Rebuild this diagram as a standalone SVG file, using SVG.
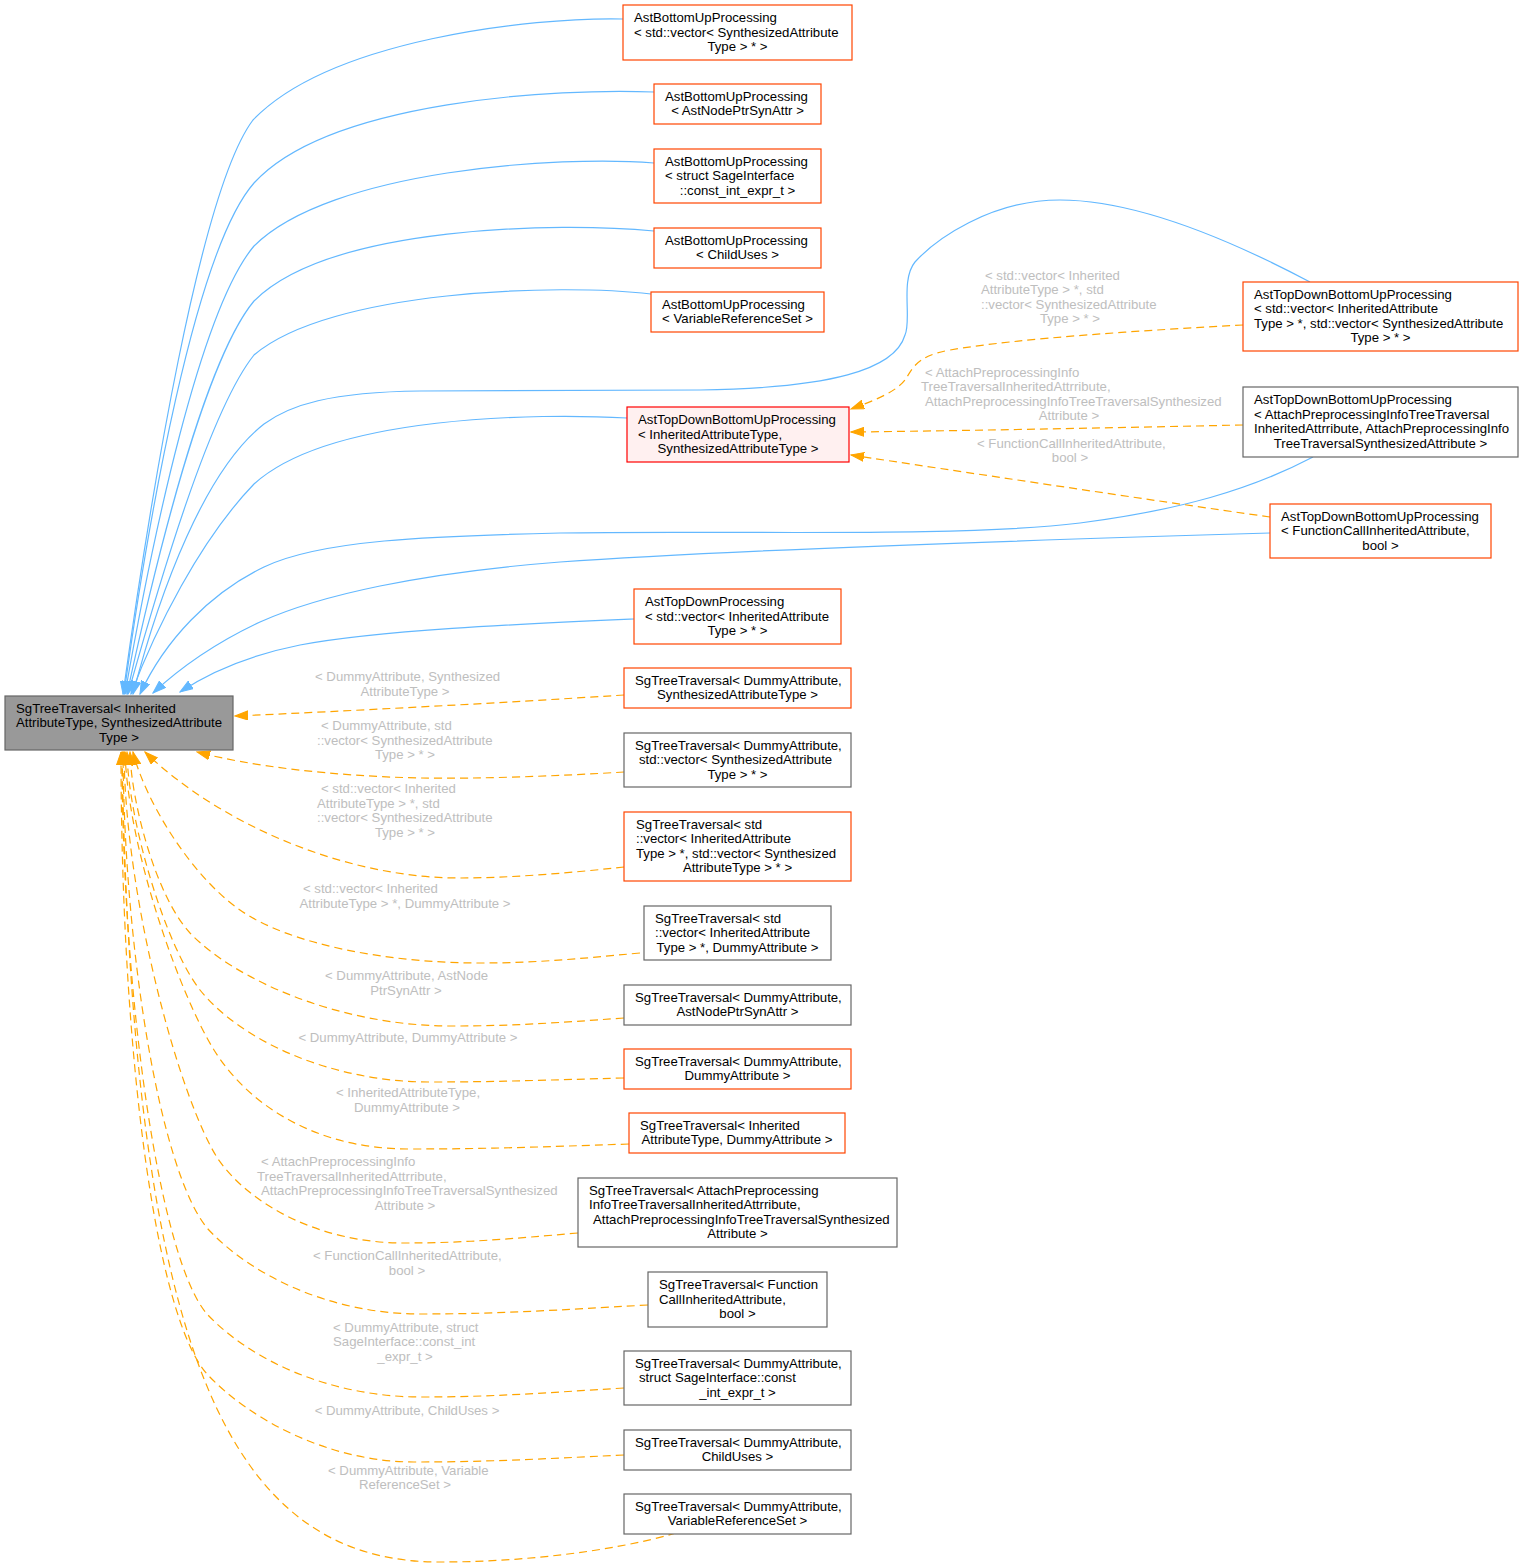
<svg xmlns="http://www.w3.org/2000/svg" width="1524" height="1568" viewBox="0 0 1524 1568">
<style>
rect{fill:#ffffff;stroke-width:1.2}
.or{stroke:#ff4500}
.gr{stroke:#666666}
.rd{stroke:#ff0000;fill:#fff0f0}
.rt{fill:#999999;stroke:#666666}
text{font-family:"Liberation Sans",Arial,Helvetica,sans-serif;font-size:13.2px;fill:#000000}
text.c{text-anchor:middle}
.lb text{fill:#bebebe}
.eb{fill:none;stroke:#63b8ff;stroke-width:1.2;marker-end:url(#ab)}
.eo{fill:none;stroke:#ffa500;stroke-width:1.2;stroke-dasharray:8,5;marker-end:url(#ao)}
</style>
<defs>
<marker id="ab" markerWidth="14" markerHeight="10" refX="13" refY="5" orient="auto" markerUnits="userSpaceOnUse"><path d="M0,0.5 L13,5 L0,9.5 z" fill="#63b8ff" stroke="#63b8ff"/></marker>
<marker id="ao" markerWidth="14" markerHeight="10" refX="13" refY="5" orient="auto" markerUnits="userSpaceOnUse"><path d="M0,0.5 L13,5 L0,9.5 z" fill="#ffa500" stroke="#ffa500"/></marker>
</defs>
<rect x="0" y="0" width="1524" height="1568" style="fill:#ffffff;stroke:none"/>
<g id="edges">
<path class="eb" d="M623,19 C530,17 330,40 253,120 C200,190 150,500 123,694"/>
<path class="eb" d="M654,92 C560,88 330,100 254,183 C195,250 148,520 124,694"/>
<path class="eb" d="M654,163 C560,155 330,170 254,246 C200,310 152,540 125,694"/>
<path class="eb" d="M654,231 C560,222 330,225 254,301 C205,360 156,560 127,694"/>
<path class="eb" d="M651,294 C560,283 330,290 254,355 C210,410 160,580 128,694"/>
<path class="eb" d="M627,418 C540,413 330,415 254,484 C200,540 155,630 131,694"/>
<path class="eb" d="M1310,282 C1240,245 1140,200 1060,200 C990,200 935,240 915,262 C900,280 912,320 905,335 C895,370 830,388 700,390 L420,391 C330,392 290,405 264,424 C205,470 160,590 133,694"/>
<path class="eb" d="M1313,457 C1250,490 1180,510 1080,523 C960,538 720,530 560,533 C430,536 320,540 264,567 C210,593 165,640 140,694"/>
<path class="eb" d="M1270,533 C1000,541 700,552 560,562 C420,573 320,595 260,622 C215,643 180,668 153,693"/>
<path class="eb" d="M634,619 C520,624 380,630 300,645 C250,655 210,672 180,692"/>
<path class="eo" d="M1243,325 C1150,330 1020,338 950,350 C915,356 912,370 905,380 C895,393 870,402 851,409"/>
<path class="eo" d="M1243,425 C1100,428 950,431 851,432"/>
<path class="eo" d="M1270,517 C1150,500 950,470 851,455"/>
<path class="eo" d="M624,695 C500,703 350,711 235,716"/>
<path class="eo" d="M624,772 C560,776 480,779 420,778 C330,776 250,766 197,752"/>
<path class="eo" d="M624,867 C570,873 510,878 460,878 C340,878 215,820 145,752"/>
<path class="eo" d="M640,953 C576,959 536,963 480,963 C390,963 290,945 240,910 C190,875 145,800 133,752"/>
<path class="eo" d="M624,1018 C555,1023 512,1026 451,1026 C340,1026 235,980 190,933 C155,895 131,800 130,752"/>
<path class="eo" d="M624,1078 C546,1080 498,1082 430,1082 C330,1082 240,1040 200,990 C165,945 128,820 127,752"/>
<path class="eo" d="M629,1144 C541,1147 486,1149 409,1149 C310,1149 245,1100 214,1050 C180,995 128,850 125,752"/>
<path class="eo" d="M578,1233 C508,1239 465,1243 404,1243 C320,1243 250,1205 218,1159 C180,1100 125,900 124,752"/>
<path class="eo" d="M648,1305 C557,1310 500,1314 421,1314 C330,1314 250,1275 207,1228 C160,1170 124,950 123,752"/>
<path class="eo" d="M624,1388 C543,1393 492,1397 421,1397 C330,1397 250,1360 207,1314 C160,1260 122,1000 122,752"/>
<path class="eo" d="M624,1455 C540,1459 487,1462 414,1462 C330,1462 250,1420 207,1374 C155,1315 121,1050 121,752"/>
<path class="eo" d="M676,1533 C610,1552 520,1562 440,1562 C230,1562 132,1357 122,752"/>
</g>
<g id="labels" class="lb">
<text x="985" y="279.5">&lt; std::vector&lt; Inherited</text>
<text x="981" y="294">AttributeType &gt; *, std</text>
<text x="981" y="308.5">::vector&lt; SynthesizedAttribute</text>
<text class="c" x="1070" y="323">Type &gt; * &gt;</text>
<text x="925" y="376.5">&lt; AttachPreprocessingInfo</text>
<text x="921" y="391">TreeTraversalInheritedAttrribute,</text>
<text x="925" y="405.5">AttachPreprocessingInfoTreeTraversalSynthesized</text>
<text class="c" x="1069" y="420">Attribute &gt;</text>
<text x="977" y="447.5">&lt; FunctionCallInheritedAttribute,</text>
<text class="c" x="1070" y="462">bool &gt;</text>
<text x="315" y="681">&lt; DummyAttribute, Synthesized</text>
<text class="c" x="405" y="695.5">AttributeType &gt;</text>
<text x="321" y="730">&lt; DummyAttribute, std</text>
<text x="317" y="744.5">::vector&lt; SynthesizedAttribute</text>
<text class="c" x="405" y="759">Type &gt; * &gt;</text>
<text x="321" y="793">&lt; std::vector&lt; Inherited</text>
<text x="317" y="807.5">AttributeType &gt; *, std</text>
<text x="317" y="822">::vector&lt; SynthesizedAttribute</text>
<text class="c" x="405" y="836.5">Type &gt; * &gt;</text>
<text x="303" y="893">&lt; std::vector&lt; Inherited</text>
<text class="c" x="405" y="907.5">AttributeType &gt; *, DummyAttribute &gt;</text>
<text x="325" y="980">&lt; DummyAttribute, AstNode</text>
<text class="c" x="406" y="994.5">PtrSynAttr &gt;</text>
<text class="c" x="408" y="1042">&lt; DummyAttribute, DummyAttribute &gt;</text>
<text x="336" y="1097">&lt; InheritedAttributeType,</text>
<text class="c" x="407" y="1111.5">DummyAttribute &gt;</text>
<text x="261" y="1166">&lt; AttachPreprocessingInfo</text>
<text x="257" y="1180.5">TreeTraversalInheritedAttrribute,</text>
<text x="261" y="1195">AttachPreprocessingInfoTreeTraversalSynthesized</text>
<text class="c" x="405" y="1209.5">Attribute &gt;</text>
<text x="313" y="1260">&lt; FunctionCallInheritedAttribute,</text>
<text class="c" x="407" y="1274.5">bool &gt;</text>
<text x="333" y="1331.5">&lt; DummyAttribute, struct</text>
<text x="333" y="1346">SageInterface::const_int</text>
<text class="c" x="405" y="1360.5">_expr_t &gt;</text>
<text class="c" x="407" y="1415">&lt; DummyAttribute, ChildUses &gt;</text>
<text x="328" y="1474.5">&lt; DummyAttribute, Variable</text>
<text class="c" x="405" y="1489">ReferenceSet &gt;</text>
</g>
<g id="root"><rect class="rt" x="5" y="696" width="228" height="54"/><text x="16" y="712.5">SgTreeTraversal&lt; Inherited</text><text x="16" y="727">AttributeType, SynthesizedAttribute</text><text class="c" x="119" y="741.5">Type &gt;</text></g>
<g id="n1"><rect class="or" x="623" y="5" width="229" height="55"/><text x="634" y="22">AstBottomUpProcessing</text><text x="634" y="36.5">&lt; std::vector&lt; SynthesizedAttribute</text><text class="c" x="737.5" y="51">Type &gt; * &gt;</text></g>
<g id="n2"><rect class="or" x="654" y="84" width="167" height="40"/><text x="665" y="100.75">AstBottomUpProcessing</text><text class="c" x="737.5" y="115.25">&lt; AstNodePtrSynAttr &gt;</text></g>
<g id="n3"><rect class="or" x="654" y="149" width="167" height="54"/><text x="665" y="165.5">AstBottomUpProcessing</text><text x="665" y="180">&lt; struct SageInterface</text><text class="c" x="737.5" y="194.5">::const_int_expr_t &gt;</text></g>
<g id="n4"><rect class="or" x="654" y="228" width="167" height="40"/><text x="665" y="244.75">AstBottomUpProcessing</text><text class="c" x="737.5" y="259.25">&lt; ChildUses &gt;</text></g>
<g id="n5"><rect class="or" x="651" y="292" width="173" height="40"/><text x="662" y="308.75">AstBottomUpProcessing</text><text class="c" x="737.5" y="323.25">&lt; VariableReferenceSet &gt;</text></g>
<g id="n6"><rect class="rd" x="627" y="407" width="222" height="55"/><text x="638" y="424">AstTopDownBottomUpProcessing</text><text x="638" y="438.5">&lt; InheritedAttributeType,</text><text class="c" x="738" y="453">SynthesizedAttributeType &gt;</text></g>
<g id="n7"><rect class="or" x="1243" y="282" width="275" height="69"/><text x="1254" y="298.75">AstTopDownBottomUpProcessing</text><text x="1254" y="313.25">&lt; std::vector&lt; InheritedAttribute</text><text x="1254" y="327.75">Type &gt; *, std::vector&lt; SynthesizedAttribute</text><text class="c" x="1380.5" y="342.25">Type &gt; * &gt;</text></g>
<g id="n8"><rect class="gr" x="1243" y="387" width="275" height="70"/><text x="1254" y="404.25">AstTopDownBottomUpProcessing</text><text x="1254" y="418.75">&lt; AttachPreprocessingInfoTreeTraversal</text><text x="1254" y="433.25">InheritedAttrribute, AttachPreprocessingInfo</text><text class="c" x="1380.5" y="447.75">TreeTraversalSynthesizedAttribute &gt;</text></g>
<g id="n9"><rect class="or" x="1270" y="504" width="221" height="54"/><text x="1281" y="520.5">AstTopDownBottomUpProcessing</text><text x="1281" y="535">&lt; FunctionCallInheritedAttribute,</text><text class="c" x="1380.5" y="549.5">bool &gt;</text></g>
<g id="n10"><rect class="or" x="634" y="589" width="207" height="55"/><text x="645" y="606">AstTopDownProcessing</text><text x="645" y="620.5">&lt; std::vector&lt; InheritedAttribute</text><text class="c" x="737.5" y="635">Type &gt; * &gt;</text></g>
<g id="n11"><rect class="or" x="624" y="668" width="227" height="40"/><text x="635" y="684.75">SgTreeTraversal&lt; DummyAttribute,</text><text class="c" x="737.5" y="699.25">SynthesizedAttributeType &gt;</text></g>
<g id="n12"><rect class="gr" x="624" y="733" width="227" height="54"/><text x="635" y="749.5">SgTreeTraversal&lt; DummyAttribute,</text><text x="639" y="764">std::vector&lt; SynthesizedAttribute</text><text class="c" x="737.5" y="778.5">Type &gt; * &gt;</text></g>
<g id="n13"><rect class="or" x="624" y="812" width="227" height="69"/><text x="636" y="828.75">SgTreeTraversal&lt; std</text><text x="636" y="843.25">::vector&lt; InheritedAttribute</text><text x="636" y="857.75">Type &gt; *, std::vector&lt; Synthesized</text><text class="c" x="737.5" y="872.25">AttributeType &gt; * &gt;</text></g>
<g id="n14"><rect class="gr" x="644" y="906" width="187" height="54"/><text x="655" y="922.5">SgTreeTraversal&lt; std</text><text x="655" y="937">::vector&lt; InheritedAttribute</text><text class="c" x="737.5" y="951.5">Type &gt; *, DummyAttribute &gt;</text></g>
<g id="n15"><rect class="gr" x="624" y="985" width="227" height="40"/><text x="635" y="1001.75">SgTreeTraversal&lt; DummyAttribute,</text><text class="c" x="737.5" y="1016.25">AstNodePtrSynAttr &gt;</text></g>
<g id="n16"><rect class="or" x="624" y="1049" width="227" height="40"/><text x="635" y="1065.75">SgTreeTraversal&lt; DummyAttribute,</text><text class="c" x="737.5" y="1080.25">DummyAttribute &gt;</text></g>
<g id="n17"><rect class="or" x="629" y="1113" width="216" height="40"/><text x="640" y="1129.75">SgTreeTraversal&lt; Inherited</text><text class="c" x="737" y="1144.25">AttributeType, DummyAttribute &gt;</text></g>
<g id="n18"><rect class="gr" x="578" y="1178" width="319" height="69"/><text x="589" y="1194.75">SgTreeTraversal&lt; AttachPreprocessing</text><text x="589" y="1209.25">InfoTreeTraversalInheritedAttrribute,</text><text x="593" y="1223.75">AttachPreprocessingInfoTreeTraversalSynthesized</text><text class="c" x="737.5" y="1238.25">Attribute &gt;</text></g>
<g id="n19"><rect class="gr" x="648" y="1272" width="179" height="55"/><text x="659" y="1289">SgTreeTraversal&lt; Function</text><text x="659" y="1303.5">CallInheritedAttribute,</text><text class="c" x="737.5" y="1318">bool &gt;</text></g>
<g id="n20"><rect class="gr" x="624" y="1351" width="227" height="54"/><text x="635" y="1367.5">SgTreeTraversal&lt; DummyAttribute,</text><text x="639" y="1382">struct SageInterface::const</text><text class="c" x="737.5" y="1396.5">_int_expr_t &gt;</text></g>
<g id="n21"><rect class="gr" x="624" y="1430" width="227" height="40"/><text x="635" y="1446.75">SgTreeTraversal&lt; DummyAttribute,</text><text class="c" x="737.5" y="1461.25">ChildUses &gt;</text></g>
<g id="n22"><rect class="gr" x="624" y="1494" width="227" height="40"/><text x="635" y="1510.75">SgTreeTraversal&lt; DummyAttribute,</text><text class="c" x="737.5" y="1525.25">VariableReferenceSet &gt;</text></g>
</svg>
